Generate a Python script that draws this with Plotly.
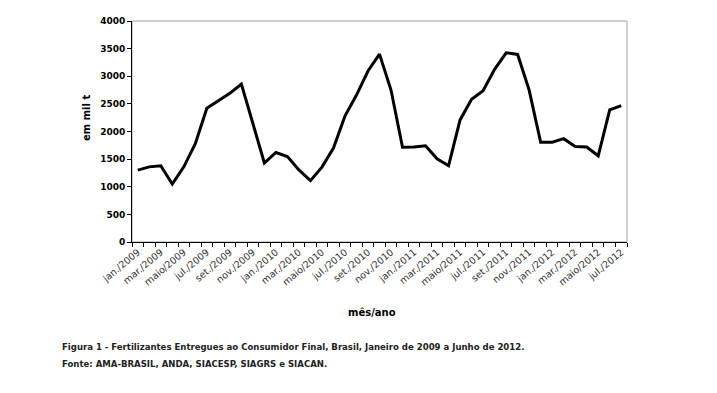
import plotly.graph_objects as go

months_pt = ["jan.", "fev.", "mar.", "abr.", "maio", "jun.", "jul.", "ago.", "set.", "out.", "nov.", "dez."]
categories = [f"{m}/{y}" for y in (2009, 2010, 2011, 2012) for m in months_pt][:43]

values = [
    1300, 1360, 1380, 1050, 1360, 1780, 2420, 2550, 2690, 2860, 2150, 1430,   # 2009
    1620, 1545, 1305, 1110, 1355, 1700, 2280, 2660, 3095, 3400, 2750, 1715,   # 2010
    1720, 1740, 1505, 1380, 2210, 2585, 2740, 3125, 3425, 3395, 2750, 1805,   # 2011
    1805, 1870, 1730, 1720, 1560, 2390, 2470                                  # 2012
]

tick_idx = list(range(0, len(categories), 2))
tick_text = [categories[i] for i in tick_idx]
y_ticks = [0, 500, 1000, 1500, 2000, 2500, 3000, 3500, 4000]

x_idx = list(range(len(categories)))

fig = go.Figure()
fig.add_trace(go.Scatter(
    x=x_idx, y=values, mode="lines",
    line=dict(color="black", width=3),
    customdata=categories,
    hovertemplate="%{customdata}: %{y}<extra></extra>",
    showlegend=False,
))

fig.update_layout(
    width=717, height=393,
    margin=dict(l=132, r=90, t=21, b=151),
    paper_bgcolor="white", plot_bgcolor="white",
    font=dict(family="DejaVu Sans", color="black"),
    shapes=[dict(type="rect", xref="paper", yref="paper", x0=0, x1=1, y0=0, y1=1,
                 line=dict(color="#a0a0a0", width=1), layer="below")],
    annotations=[
        dict(text="<b>em mil t</b>", textangle=-90, xref="paper", yref="paper",
             x=(86 - 132) / 495, y=(242 - 118) / 221, showarrow=False,
             font=dict(size=10, family="DejaVu Sans"), xanchor="center", yanchor="middle"),
        dict(text="<b>mês/ano</b>", xref="paper", yref="paper",
             x=(372 - 132) / 495, y=(242 - 312) / 221, showarrow=False,
             font=dict(size=10, family="DejaVu Sans"), xanchor="center", yanchor="middle"),
        dict(text="<b>Figura 1 - Fertilizantes Entregues ao Consumidor Final, Brasil, Janeiro de 2009 a Junho de 2012.</b>",
             xref="paper", yref="paper", x=(60 - 132) / 495, y=(242 - 346) / 221,
             showarrow=False, xanchor="left", yanchor="middle",
             font=dict(size=9.5, family="DejaVu Sans Condensed", color="#222")),
        dict(text="<b>Fonte: AMA-BRASIL, ANDA, SIACESP, SIAGRS e SIACAN.</b>",
             xref="paper", yref="paper", x=(60 - 132) / 495, y=(242 - 363) / 221,
             showarrow=False, xanchor="left", yanchor="middle",
             font=dict(size=9.5, family="DejaVu Sans Condensed", color="#222")),
    ],
)

fig.update_xaxes(
    range=[-0.5, len(categories) - 0.5],
    tickvals=tick_idx, ticktext=tick_text, tickangle=-40,
    ticks="", showgrid=False, zeroline=False,
    showline=True, linecolor="black", linewidth=1,
    tickfont=dict(size=9.5, family="DejaVu Sans", color="#333"),
    minor=dict(ticks="outside", tick0=-0.5, dtick=1, ticklen=4, tickcolor="black", showgrid=False),
)
fig.update_yaxes(
    range=[0, 4000], tickvals=y_ticks, ticktext=[f"<b>{v}</b>" for v in y_ticks],
    ticks="outside", ticklen=4, tickcolor="black",
    showgrid=False, zeroline=False,
    showline=True, linecolor="black", linewidth=1,
    tickfont=dict(size=9, family="DejaVu Sans", color="black"),
)

fig.write_html("out.html", config={"displayModeBar": False},
               post_script="document.body.style.margin='0';")
